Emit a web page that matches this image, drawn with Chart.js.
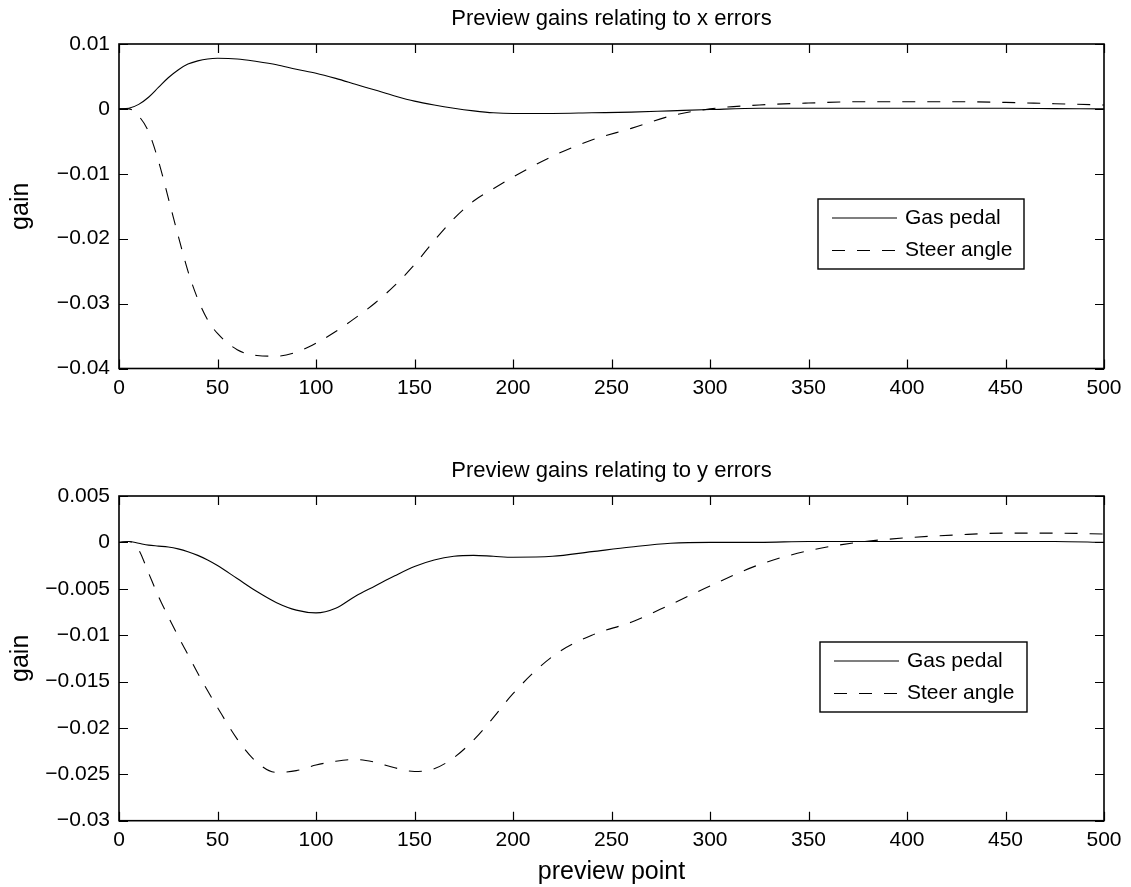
<!DOCTYPE html>
<html>
<head>
<meta charset="utf-8">
<script src="https://cdn.jsdelivr.net/npm/chart.js@4"></script>
<style>
  body { margin: 0; background: #fff; }
  canvas { display: block; }
</style>
</head>
<body>
<canvas id="xErrors" width="1131" height="440"></canvas>
<canvas id="yErrors" width="1131" height="447"></canvas>
<script>
// preview point index (x axis)
var previewPts = [0, 5, 10, 15, 20, 25, 30, 35, 40, 45, 50, 60, 70, 80, 90, 100, 110, 120, 130, 140,
                  150, 160, 170, 180, 190, 200, 220, 240, 260, 280, 300, 325, 350, 375, 400, 425, 450, 475, 500];

// gains relating to x errors
var xGas   = [0, 0.0001, 0.0007, 0.0018, 0.0033, 0.0048, 0.0060, 0.0069, 0.0074, 0.0077, 0.0078, 0.0077, 0.0073, 0.0068,
              0.0061, 0.0055, 0.0047, 0.0038, 0.0029, 0.0020, 0.0012, 0.0006, 0.0001, -0.0003, -0.0006, -0.0007, -0.0007,
              -0.0006, -0.0005, -0.0003, -0.0001, 0.0001, 0.0001, 0.0001, 0.0001, 0.0001, 0.0001, 0.00005, 0];
var xSteer = [0, 0, -0.0011, -0.0035, -0.0080, -0.0137, -0.0195, -0.0250, -0.0293, -0.0325, -0.0346, -0.0371, -0.0380,
              -0.0381, -0.0375, -0.0361, -0.0343, -0.0322, -0.0299, -0.0272, -0.0240, -0.0203, -0.0169, -0.0142, -0.0123,
              -0.0105, -0.0073, -0.0048, -0.0030, -0.0011, 0, 0.0006, 0.0009, 0.0011, 0.0011, 0.0011, 0.0010, 0.0008, 0.0006];

// gains relating to y errors
var yGas   = [0, 0.0001, -0.0001, -0.0003, -0.0004, -0.0005, -0.0007, -0.0010, -0.0014, -0.0019, -0.0025, -0.0039, -0.0053,
              -0.0065, -0.0073, -0.0076, -0.0071, -0.0058, -0.0047, -0.0036, -0.0026, -0.0019, -0.0015, -0.0014, -0.0015,
              -0.0016, -0.0015, -0.0010, -0.0005, -0.0001, 0, 0, 0.0001, 0.0001, 0.0001, 0.0001, 0.0001, 0.0001, 0];
var ySteer = [0, 0.0001, -0.0008, -0.0033, -0.0058, -0.0080, -0.0101, -0.0121, -0.0141, -0.0160, -0.0178, -0.0212, -0.0237,
              -0.0248, -0.0246, -0.0240, -0.0236, -0.0234, -0.0237, -0.0243, -0.0247, -0.0244, -0.0232, -0.0213, -0.0189,
              -0.0163, -0.0123, -0.0100, -0.0086, -0.0067, -0.0047, -0.0024, -0.0009, 0, 0.0005, 0.0008, 0.0010, 0.0010, 0.0009];

var xTickVals  = [0, 50, 100, 150, 200, 250, 300, 350, 400, 450, 500];
var xErrTicks  = [-0.04, -0.03, -0.02, -0.01, 0, 0.01];
var yErrTicks  = [-0.03, -0.025, -0.02, -0.015, -0.01, -0.005, 0, 0.005];

var FONT = "'Liberation Sans', Arial, Helvetica, sans-serif";
Chart.defaults.font.family = FONT;
Chart.defaults.color = '#000';

function fmt(v) {
  return (v < 0 ? '\u2212' : '') + Math.abs(v);
}

function pts(ys) {
  return previewPts.map(function (x, i) { return { x: x, y: ys[i] }; });
}

// box, inward ticks, title and legend like a matlab axes
var matlabFrame = {
  id: 'matlabFrame',
  afterDatasetsDraw: function (chart, args, opts) {
    var a = chart.chartArea, ctx = chart.ctx;
    var xs = chart.scales.x, ys = chart.scales.y;
    var tl = 9;
    ctx.save();
    ctx.strokeStyle = '#000';
    ctx.lineWidth = 1.2;
    ctx.setLineDash([]);
    ctx.beginPath();
    xs.ticks.forEach(function (t) {
      var p = Math.round(xs.getPixelForValue(t.value)) + 0.5;
      ctx.moveTo(p, a.bottom); ctx.lineTo(p, a.bottom - tl);
      ctx.moveTo(p, a.top); ctx.lineTo(p, a.top + tl);
    });
    ys.ticks.forEach(function (t) {
      var p = Math.round(ys.getPixelForValue(t.value)) + 0.5;
      ctx.moveTo(a.left, p); ctx.lineTo(a.left + tl, p);
      ctx.moveTo(a.right, p); ctx.lineTo(a.right - tl, p);
    });
    ctx.stroke();
    ctx.lineWidth = 1.6;
    ctx.strokeRect(a.left, a.top, a.right - a.left, a.bottom - a.top);

    // title
    ctx.fillStyle = '#000';
    ctx.font = '22px ' + FONT;
    ctx.textAlign = 'center';
    ctx.textBaseline = 'middle';
    ctx.fillText(opts.title, (a.left + a.right) / 2, a.top - 25);

    // legend
    var b = opts.box;
    ctx.fillStyle = '#fff';
    ctx.fillRect(b.x, b.y, b.w, b.h);
    ctx.lineWidth = 1.4;
    ctx.strokeRect(b.x, b.y, b.w, b.h);
    ctx.font = '21px ' + FONT;
    ctx.textAlign = 'left';
    chart.data.datasets.forEach(function (ds, i) {
      var yy = b.y + 19 + i * 32.5;
      ctx.lineWidth = 1.1;
      ctx.setLineDash(ds.borderDash || []);
      ctx.beginPath();
      ctx.moveTo(b.x + 14, yy);
      ctx.lineTo(b.x + 79, yy);
      ctx.stroke();
      ctx.setLineDash([]);
      ctx.fillStyle = '#000';
      ctx.fillText(ds.label, b.x + 87, yy);
    });
    ctx.restore();
  }
};

function makeChart(id, title, gas, steer, yTicks, padTop, xHeight, showXTitle, box) {
  return new Chart(document.getElementById(id), {
    type: 'line',
    data: {
      datasets: [
        {
          label: 'Gas pedal',
          data: pts(gas),
          borderColor: '#000',
          borderWidth: 1.1,
          pointRadius: 0,
          fill: false,
          cubicInterpolationMode: 'monotone'
        },
        {
          label: 'Steer angle',
          data: pts(steer),
          borderColor: '#000',
          borderWidth: 1.1,
          borderDash: [13, 12],
          pointRadius: 0,
          fill: false,
          cubicInterpolationMode: 'monotone'
        }
      ]
    },
    options: {
      responsive: false,
      animation: false,
      events: [],
      layout: { padding: { top: padTop, right: 27, left: 0, bottom: 0 } },
      plugins: {
        legend: { display: false },
        tooltip: { enabled: false },
        matlabFrame: { title: title, box: box }
      },
      scales: {
        x: {
          type: 'linear',
          min: 0,
          max: 500,
          grid: { display: false, drawTicks: false },
          border: { display: false },
          afterBuildTicks: function (s) { s.ticks = xTickVals.map(function (v) { return { value: v }; }); },
          afterFit: function (s) { s.height = xHeight; },
          ticks: { padding: 7, maxRotation: 0, font: { size: 21 } },
          title: { display: showXTitle, text: 'preview point', font: { size: 25 }, padding: { top: 0, bottom: 0 } }
        },
        y: {
          min: yTicks[0],
          max: yTicks[yTicks.length - 1],
          grid: { display: false, drawTicks: false },
          border: { display: false },
          afterBuildTicks: function (s) { s.ticks = yTicks.map(function (v) { return { value: v }; }); },
          afterFit: function (s) { s.width = 119; },
          ticks: { padding: 9, font: { size: 21 }, callback: function (v) { return fmt(v); } },
          title: { display: true, text: 'gain', font: { size: 25 }, padding: { top: 6, bottom: 0 } }
        }
      }
    },
    plugins: [matlabFrame]
  });
}

makeChart('xErrors', 'Preview gains relating to x errors', xGas, xSteer, xErrTicks,
  44, 71.5, false, { x: 818, y: 199, w: 206, h: 70 });
makeChart('yErrors', 'Preview gains relating to y errors', yGas, ySteer, yErrTicks,
  56, 66.3, true, { x: 820, y: 202, w: 207, h: 70 });
</script>
</body>
</html>
